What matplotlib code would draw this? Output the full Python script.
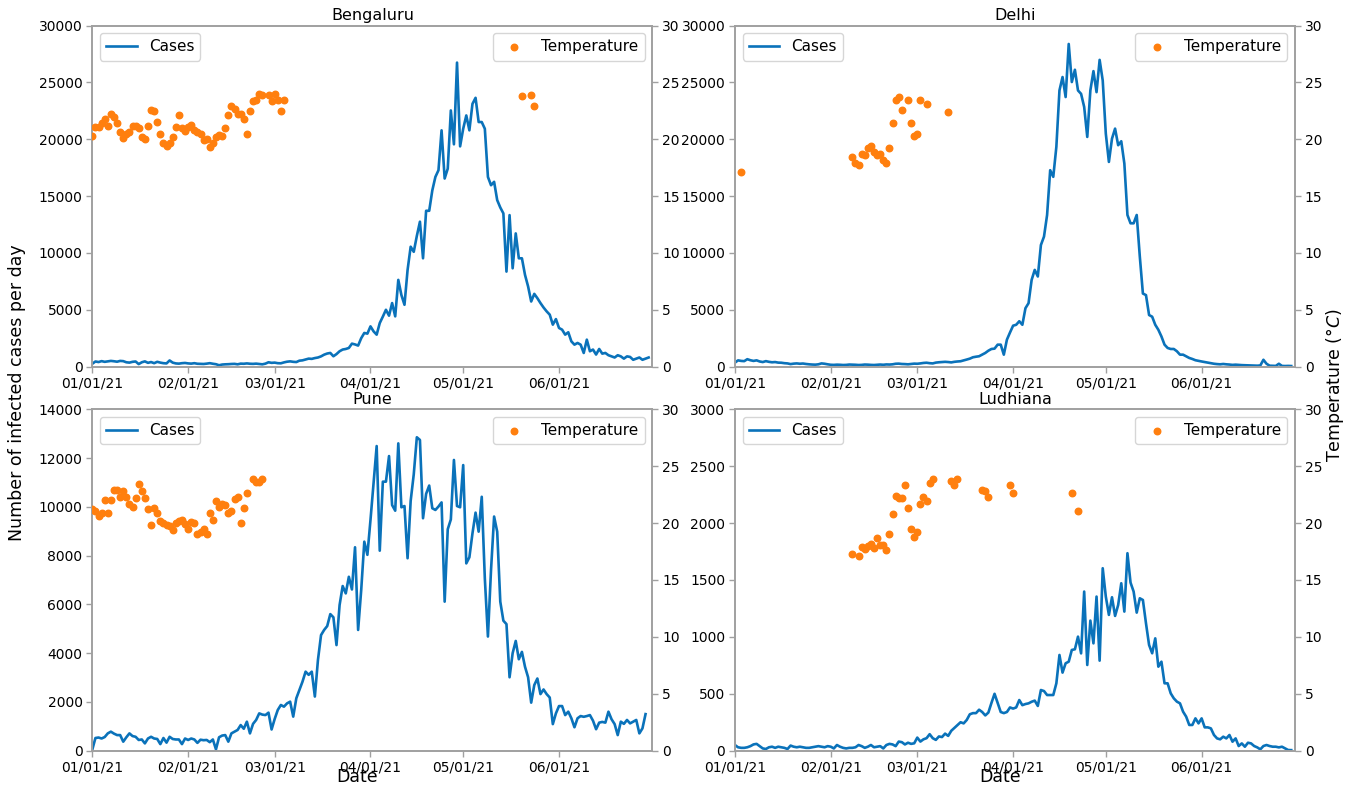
import matplotlib
matplotlib.use("Agg")
import matplotlib.pyplot as plt
import matplotlib.dates as mdates
import pandas as pd

start_date = "2021-01-01"

bengaluru_cases = [
    250, 450, 400, 480, 420, 460, 500, 470, 430, 500,
    480, 380, 350, 420, 450, 220, 380, 460, 330, 400,
    300, 420, 350, 300, 280, 540, 350, 280, 260, 300,
    320, 280, 260, 300, 250, 240, 230, 260, 300, 250,
    210, 120, 180, 200, 210, 230, 240, 200, 260, 250,
    280, 250, 240, 260, 230, 200, 260, 380, 330, 350,
    300, 290, 370, 430, 460, 420, 400, 520, 550, 620,
    700, 680, 750, 800, 900, 1050, 1150, 1200, 910, 1100,
    1350, 1500, 1550, 1640, 2020, 1950, 1850, 2500, 2960, 2900,
    3540, 3100, 2810, 3830, 4400, 5000, 4480, 5590, 4420, 7630,
    6300, 5440, 8500, 10550, 10100, 11500, 12750, 9530, 13710, 13710,
    15500, 16690, 17280, 20790, 16550, 17420, 22540, 19560, 26750, 19380,
    20930, 22100, 20790, 23120, 23650, 21520, 21520, 20930, 16690, 15960,
    16260, 14650, 14000, 13480, 8360, 13330, 8650, 11720, 9530, 9530,
    8070, 7050, 5730, 6400, 6020, 5590, 5200, 4860, 4570, 3690,
    4180, 3400, 3250, 2810, 3020, 2220, 1930, 2080, 1930, 1200,
    2370, 1350, 1500, 1060, 1550, 1140, 1200, 1000, 900, 800,
    1000, 900, 700, 900, 850, 600, 700, 800, 600, 700, 800,
]

delhi_cases = [
    350, 550, 500, 480, 650, 560, 500, 550, 450, 400,
    480, 420, 380, 400, 350, 340, 300, 280, 220, 260,
    280, 250, 270, 230, 200, 180, 170, 200, 280, 250,
    200, 160, 150, 170, 160, 140, 150, 180, 170, 160,
    140, 150, 180, 170, 150, 140, 160, 180, 160, 190,
    180, 200, 250, 260, 230, 220, 200, 230, 260, 250,
    280, 320, 340, 300, 280, 350, 380, 400, 420, 400,
    370, 420, 450, 470, 540, 620, 700, 820, 870, 910,
    1050, 1200, 1400, 1550, 1580, 1930, 1930, 1050, 2370, 3000,
    3600, 3680, 3990, 3680, 5140, 5580, 7630, 8510, 7930, 10700,
    11440, 13340, 17280, 16700, 19340, 24300, 25480, 23720, 28390, 25040,
    26120, 24300, 24000, 22850, 20210, 24300, 26000, 24150, 26990, 25180,
    20500, 18010, 20060, 20940, 19480, 19830, 17870, 13340, 12610, 12610,
    13340, 9690, 6430, 6290, 4540, 4390, 3680, 3240, 2650, 1930,
    1640, 1550, 1550, 1350, 1050, 1050, 900, 760, 670, 560,
    500, 450, 400, 350, 300, 250, 220, 200, 230, 200,
    180, 150, 170, 150, 130, 120, 110, 100, 90, 80,
    100, 600, 250, 80, 70, 60, 250, 60, 50, 60, 50,
]

pune_cases = [
    50, 520, 540, 500, 560, 710, 780, 700, 640, 640,
    370, 550, 710, 600, 570, 440, 460, 300, 500, 570,
    500, 480, 270, 520, 330, 570, 480, 460, 460, 270,
    500, 440, 500, 460, 320, 450, 430, 440, 350, 460,
    55, 550, 620, 640, 370, 710, 780, 850, 1050, 900,
    1190, 710, 1100, 1260, 1530, 1480, 1460, 1560, 870, 1300,
    1670, 1874, 1805, 1940, 2010, 1397, 2150, 2490, 2830, 3240,
    3110, 3240, 2220, 3720, 4740, 4950, 5110, 5600, 5470, 4330,
    5970, 6750, 6450, 7130, 6610, 8340, 4950, 6590, 8570, 8030,
    9460, 10970, 12490, 8200, 11030, 11030, 12080, 10070, 9840, 12600,
    9980, 10030, 7890, 10240, 11330, 12850, 12740, 9530, 10530, 10870,
    9940, 9870, 10010, 10180, 6110, 9080, 9480, 11920, 10030, 9980,
    11710, 7680, 7930, 8910, 9760, 8980, 10410, 7060, 4680, 7400,
    9600, 8980, 6110, 5330, 5190, 3010, 4000, 4500, 3750, 4050,
    3440, 3010, 1970, 2690, 2960, 2320, 2510, 2320, 2180, 1090,
    1530, 1830, 1830, 1460, 1600, 1330, 960, 1330, 1420, 1390,
    1420, 1460, 1230, 880, 1150, 1180, 1150, 1600, 1290, 1090,
    640, 1190, 1100, 1260, 1120, 1190, 1260, 710, 915, 1500,
]

ludhiana_cases = [
    50, 30, 25, 25, 30, 40, 55, 60, 40, 20,
    15, 30, 35, 25, 35, 30, 25, 15, 45, 35,
    30, 35, 30, 25, 25, 30, 35, 40, 35, 30,
    40, 35, 20, 50, 35, 25, 20, 25, 25, 30,
    50, 40, 25, 35, 50, 30, 35, 40, 20, 50,
    60, 55, 40, 80, 75, 55, 70, 60, 65, 115,
    80, 100, 110, 145, 110, 95, 125, 120, 150, 130,
    175, 200, 225, 250, 240, 270, 320, 330, 330, 360,
    340, 310, 335, 420, 500, 420, 340, 330, 340, 380,
    370, 380, 445, 400, 410, 416, 430, 440, 393, 533,
    524, 489, 489, 489, 592, 841, 686, 768, 782, 885,
    891, 1002, 855, 1398, 753, 1143, 943, 1354, 791, 1603,
    1354, 1193, 1348, 1184, 1280, 1471, 1222, 1735, 1477, 1398,
    1213, 1339, 1324, 1119, 929, 856, 987, 738, 782, 592,
    592, 504, 460, 431, 416, 343, 299, 226, 226, 284,
    240, 284, 205, 205, 196, 138, 108, 100, 123, 108,
    138, 79, 108, 41, 64, 35, 70, 64, 41, 29,
    12, 41, 50, 41, 35, 35, 29, 35, 20, 6, 5,
]

# Temperature observations: day offset from 1 Jan 2021 and value (deg C)
bengaluru_temp_days = list(range(0, 56)) + [57, 58, 59, 60, 61, 62, 139, 142, 143]
bengaluru_temp = [
    20.3, 21.1, 21.1, 21.4, 21.8, 21.2, 22.2, 22.0, 21.4, 20.6,
    20.1, 20.5, 20.6, 21.2, 21.2, 21.0, 20.2, 20.0, 21.2, 22.6,
    22.5, 21.5, 20.5, 19.7, 19.4, 19.7, 20.2, 21.1, 22.1, 21.0,
    20.7, 21.1, 21.3, 20.8, 20.6, 20.5, 19.9, 20.0, 19.3, 19.7,
    20.2, 20.4, 20.3, 21.0, 22.1, 22.9, 22.7, 22.2, 22.2, 21.8,
    20.5, 22.5, 23.4, 23.5, 24.0, 23.9,
    23.9, 23.4, 24.0, 23.5, 22.5, 23.5,
    23.8, 23.9, 22.9,
]

delhi_temp_days = [2, 38, 39, 40, 41, 42, 43, 44, 45, 46, 47, 48, 49, 50,
                   51, 52, 53, 54, 56, 57, 58, 59, 60, 62, 69]
delhi_temp = [17.1, 18.4, 17.9, 17.7, 18.7, 18.6, 19.2, 19.4, 18.9, 18.6,
              18.7, 18.2, 17.9, 19.2, 21.4, 23.5, 23.7, 22.6, 23.5, 21.4,
              20.3, 20.5, 23.5, 23.1, 22.4]

pune_temp_days = list(range(0, 51)) + [52, 53, 54, 55]
pune_temp = [
    21.2, 21.1, 20.6, 20.9, 22.0, 20.9, 22.0, 22.9, 22.9, 22.3,
    22.8, 22.3, 21.7, 21.4, 22.2, 23.4, 22.8, 22.2, 21.2, 19.8,
    21.3, 20.9, 20.2, 20.0, 19.8, 19.7, 19.4, 20.0, 20.2, 20.3,
    19.9, 19.5, 20.1, 20.0, 19.0, 19.2, 19.5, 19.0, 20.9, 20.3,
    21.9, 21.4, 21.7, 21.6, 20.9, 21.1, 22.1, 22.3, 20.0, 21.3,
    22.6, 23.9, 23.6, 23.6, 23.9,
]

ludhiana_temp_days = [38] + list(range(40, 65)) + [70, 71, 72, 80, 81, 82, 89, 90, 109, 111]
ludhiana_temp = [
    17.3, 17.1, 17.9, 17.7, 18.0, 18.2, 17.8, 18.7, 18.1, 18.1,
    17.6, 19.0, 20.8, 22.4, 22.2, 22.2, 23.3, 21.3, 19.5, 18.8,
    19.2, 21.7, 22.3, 21.9, 23.5, 23.9,
    23.7, 23.3, 23.9, 22.9, 22.8, 22.3, 23.3, 22.6, 22.6, 21.1,
]

cities = ["Bengaluru", "Delhi", "Pune", "Ludhiana"]
case_series = [bengaluru_cases, delhi_cases, pune_cases, ludhiana_cases]
temp_day_series = [bengaluru_temp_days, delhi_temp_days, pune_temp_days, ludhiana_temp_days]
temp_series = [bengaluru_temp, delhi_temp, pune_temp, ludhiana_temp]
case_ylims = [30000, 30000, 14000, 3000]
case_ysteps = [5000, 5000, 2000, 500]

BLUE = "#0a72ba"
ORANGE = "#ff7f0e"
SPINE = "#a0a0a0"

plt.rcParams["font.family"] = ["DejaVu Sans"]

fig = plt.figure(figsize=(13.54, 7.85), dpi=100)
W = 0.4137
positions = [
    [0.0682, 0.5330, W, 0.4343],
    [0.5428, 0.5330, W, 0.4343],
    [0.0682, 0.0437, W, 0.4350],
    [0.5428, 0.0437, W, 0.4350],
]

base = pd.Timestamp(start_date)
for i, city in enumerate(cities):
    ax = fig.add_axes(positions[i])
    cases = case_series[i]
    dates = pd.date_range(start_date, periods=len(cases), freq="D")
    ax.plot(dates, cases, color=BLUE, lw=1.9, label="Cases")
    ax.set_ylim(0, case_ylims[i])
    ax.set_yticks(range(0, case_ylims[i] + 1, case_ysteps[i]))
    ax.set_xlim(pd.Timestamp("2021-01-01"), pd.Timestamp("2021-07-01 06:00"))
    ax.xaxis.set_major_locator(mdates.MonthLocator(bymonth=[1, 2, 3, 4, 5, 6]))
    ax.xaxis.set_major_formatter(mdates.DateFormatter("%m/%d/%y"))
    ax.set_title(city, fontsize=11.5, pad=4)

    ax2 = ax.twinx()
    tdates = [base + pd.Timedelta(days=d) for d in temp_day_series[i]]
    ax2.scatter(tdates, temp_series[i], s=22, color=ORANGE, label="Temperature", zorder=3)
    ax2.set_ylim(0, 30)
    ax2.set_yticks(range(0, 31, 5))

    for a in (ax, ax2):
        for sp in a.spines.values():
            sp.set_color(SPINE)
            sp.set_linewidth(1.2)
        a.tick_params(labelsize=10, color=SPINE, length=4, width=1, pad=3)

    ax.legend(loc="upper left", fontsize=11)
    ax2.legend(loc="upper right", fontsize=11)

    if i >= 2:
        ax.set_xlabel("Date", fontsize=12.5, labelpad=-4.5, x=0.473)

fig.text(0.0125, 0.5, "Number of infected cases per day", rotation=90,
         ha="center", va="center", fontsize=12.5)
fig.text(0.986, 0.51, "Temperature (°$C$)", rotation=90,
         ha="center", va="center", fontsize=12.5)

fig.savefig("out.png", dpi=100)
